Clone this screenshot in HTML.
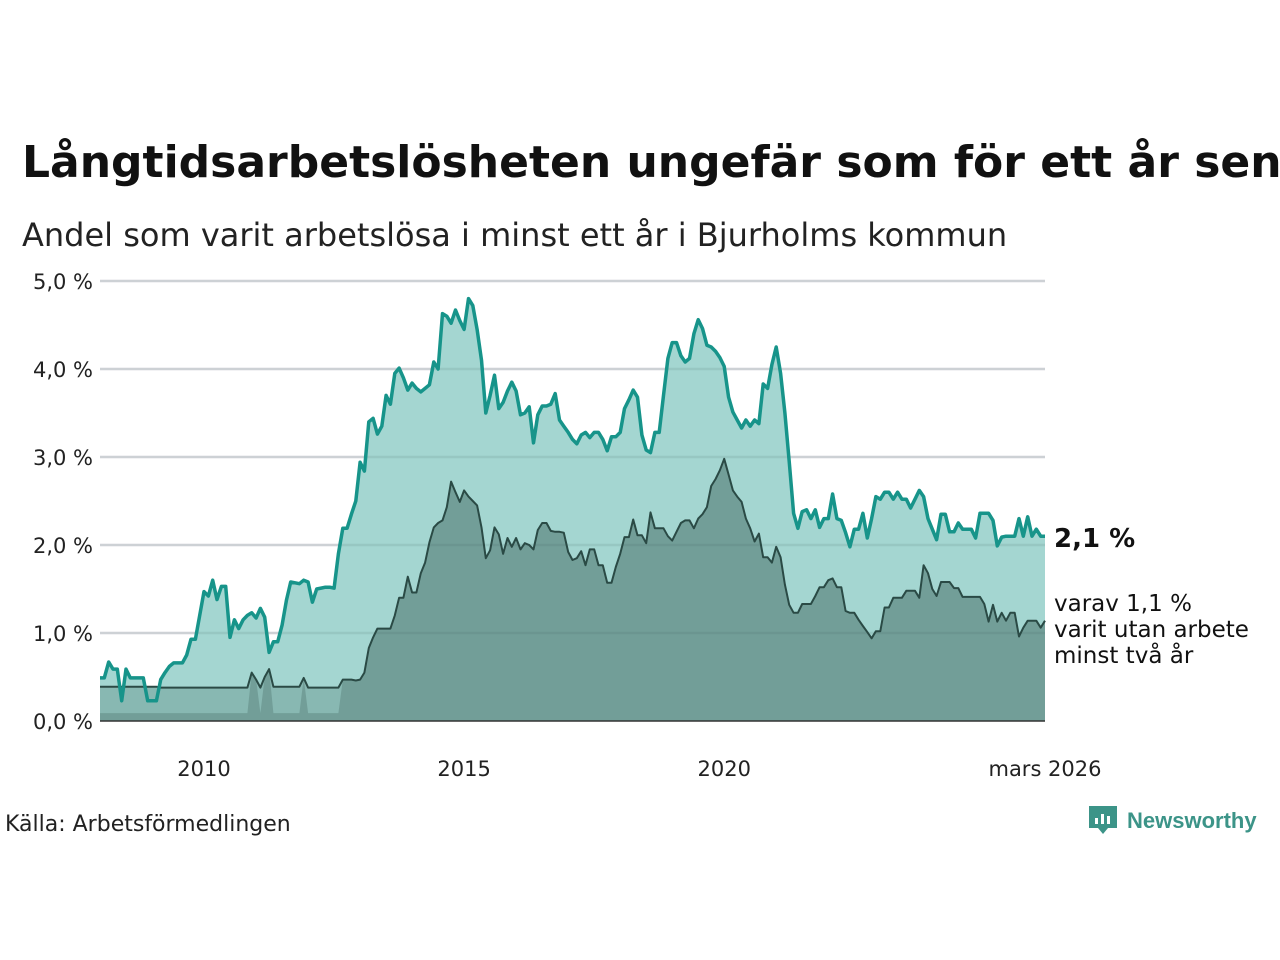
<!DOCTYPE html>
<html><head><meta charset="utf-8">
<style>
html,body{margin:0;padding:0;background:#fff;width:1280px;height:960px;overflow:hidden;font-family:"DejaVu Sans","Liberation Sans",sans-serif;}
svg{display:block}
</style></head>
<body>
<svg id="chart" width="1280" height="960">
<text x="22" y="177" font-size="44" font-weight="bold" fill="#111">Långtidsarbetslösheten ungefär som för ett år sen</text>
<text x="22" y="246" font-size="32" fill="#222">Andel som varit arbetslösa i minst ett år i Bjurholms kommun</text>
<g id="grid"></g>
<g id="plot"></g>
<g id="axes"></g>
<text x="1054" y="547" font-size="26" font-weight="bold" fill="#111">2,1 %</text>
<text font-size="23" fill="#111"><tspan x="1054" y="611">varav 1,1 %</tspan><tspan x="1054" y="637">varit utan arbete</tspan><tspan x="1054" y="663">minst två år</tspan></text>
<text x="5" y="831" font-size="22" fill="#222">Källa: Arbetsförmedlingen</text>
<g>
<path d="M1089 806 h28 v22 h-9 l-5 6 l-5 -6 h-9 z" fill="#3c9488"/>
<rect x="1095" y="818" width="3" height="6" fill="#fff"/><rect x="1101" y="814" width="3" height="10" fill="#fff"/><rect x="1107" y="816" width="3" height="8" fill="#fff"/>
<text x="1127" y="828" font-size="22" font-weight="bold" fill="#3c9488" font-family="Liberation Sans, sans-serif">Newsworthy</text>
</g>
</svg>
<script>
const years = ["2010","2015","2020","mars 2026"];
const yTicks = [0,1,2,3,4,5];
const yTickLabels = ["0,0 %","1,0 %","2,0 %","3,0 %","4,0 %","5,0 %"];
const total = [
0.49,0.49,0.67,0.59,0.59,0.23,0.59,0.49,0.49,0.49,0.49,0.23,
0.23,0.23,0.47,0.55,0.62,0.66,0.66,0.66,0.75,0.93,0.93,1.2,
1.47,1.42,1.6,1.38,1.53,1.53,0.95,1.15,1.05,1.15,1.2,1.23,
1.17,1.28,1.18,0.78,0.9,0.9,1.09,1.37,1.58,1.57,1.56,1.6,
1.58,1.35,1.5,1.51,1.52,1.52,1.51,1.9,2.19,2.19,2.35,2.5,
2.94,2.84,3.4,3.44,3.26,3.35,3.7,3.6,3.95,4.01,3.9,3.76,
3.84,3.78,3.74,3.78,3.82,4.08,4.0,4.63,4.6,4.52,4.67,4.55,
4.45,4.8,4.72,4.45,4.1,3.5,3.7,3.93,3.55,3.62,3.75,3.85,
3.75,3.48,3.5,3.57,3.16,3.48,3.58,3.58,3.6,3.72,3.42,3.35,
3.28,3.2,3.15,3.25,3.28,3.22,3.28,3.28,3.2,3.07,3.23,3.23,
3.28,3.55,3.65,3.76,3.68,3.25,3.08,3.05,3.28,3.28,3.7,4.12,
4.3,4.3,4.15,4.08,4.12,4.4,4.56,4.46,4.27,4.25,4.2,4.13,
4.03,3.68,3.51,3.42,3.33,3.42,3.35,3.42,3.38,3.83,3.78,4.05,
4.25,3.95,3.5,2.95,2.36,2.19,2.38,2.4,2.3,2.4,2.2,2.3,
2.3,2.58,2.3,2.28,2.14,1.98,2.18,2.18,2.36,2.08,2.3,2.55,
2.52,2.6,2.6,2.52,2.6,2.52,2.52,2.42,2.52,2.62,2.55,2.3,
2.18,2.06,2.35,2.35,2.15,2.15,2.25,2.18,2.18,2.18,2.08,2.36,
2.36,2.36,2.28,1.99,2.09,2.1,2.1,2.1,2.3,2.1,2.32,2.1,
2.18,2.1,2.1];
const longTerm = [
0.39,0.39,0.39,0.39,0.39,0.39,0.39,0.39,0.39,0.39,0.39,0.39,
0.39,0.39,0.38,0.38,0.38,0.38,0.38,0.38,0.38,0.38,0.38,0.38,
0.38,0.38,0.38,0.38,0.38,0.38,0.38,0.38,0.38,0.38,0.38,0.55,
0.47,0.38,0.5,0.59,0.39,0.39,0.39,0.39,0.39,0.39,0.39,0.49,
0.38,0.38,0.38,0.38,0.38,0.38,0.38,0.38,0.47,0.47,0.47,0.46,
0.47,0.55,0.83,0.95,1.05,1.05,1.05,1.05,1.2,1.4,1.4,1.64,
1.46,1.46,1.68,1.8,2.03,2.2,2.25,2.28,2.43,2.72,2.6,2.49,
2.62,2.55,2.5,2.45,2.2,1.85,1.94,2.2,2.12,1.9,2.08,1.98,
2.08,1.95,2.02,2.0,1.95,2.17,2.25,2.25,2.16,2.15,2.15,2.14,
1.92,1.83,1.85,1.93,1.77,1.95,1.95,1.77,1.77,1.57,1.57,1.75,
1.9,2.09,2.09,2.29,2.11,2.11,2.02,2.37,2.19,2.19,2.19,2.1,
2.05,2.15,2.25,2.28,2.28,2.19,2.3,2.35,2.43,2.67,2.75,2.85,
2.98,2.8,2.62,2.55,2.49,2.3,2.19,2.04,2.13,1.86,1.86,1.8,
1.98,1.86,1.55,1.32,1.23,1.23,1.33,1.33,1.33,1.42,1.52,1.52,
1.6,1.62,1.52,1.52,1.25,1.23,1.23,1.15,1.08,1.01,0.94,1.02,
1.02,1.29,1.29,1.4,1.4,1.4,1.48,1.48,1.48,1.4,1.77,1.68,
1.5,1.42,1.58,1.58,1.58,1.51,1.51,1.41,1.41,1.41,1.41,1.41,
1.33,1.13,1.32,1.13,1.23,1.14,1.23,1.23,0.96,1.06,1.14,1.14,
1.14,1.06,1.14];
const startYear = 2008;
const NS="http://www.w3.org/2000/svg";
const X0=100,X1=1045,Y0=721,Y1=281;
const n=total.length;
function xScale(i){return X0+(X1-X0)*i/(n-1);}
function xYear(y){return X0+(X1-X0)*((y-startYear)*12)/(n-1);}
function yScale(v){return Y0-(Y0-Y1)*v/5;}
function mk(tag,attrs,parent){const e=document.createElementNS(NS,tag);for(const k in attrs)e.setAttribute(k,attrs[k]);parent.appendChild(e);return e;}
const grid=document.getElementById('grid'),plot=document.getElementById('plot'),axes=document.getElementById('axes');
yTicks.forEach((t,i)=>{
  if(t>0){const l=mk('line',{x1:X0,x2:X1,y1:yScale(t),y2:yScale(t),stroke:'#e2e2e6','stroke-width':2.5},grid);
  
  }
  const tx=mk('text',{x:93,y:yScale(t)+8,'text-anchor':'end','font-size':21,fill:'#222'},axes);
  tx.textContent=yTickLabels[i];
  
  
});
function areaPath(arr){let d='M'+xScale(0)+','+Y0;arr.forEach((v,i)=>{d+=' L'+xScale(i).toFixed(1)+','+yScale(v).toFixed(1);});return d+' L'+xScale(n-1)+','+Y0+' Z';}
function linePath(arr){return arr.map((v,i)=>(i?'L':'M')+xScale(i).toFixed(1)+','+yScale(v).toFixed(1)).join(' ');}
const a1=mk('path',{d:areaPath(total),fill:'#a4d6d1'},plot);


const a2=mk('path',{d:areaPath(longTerm),fill:'#88b8b2'},plot);


const core=longTerm.map(v=>v>0.42?v:0.09);
const a3=mk('path',{d:areaPath(core),fill:'#729e98'},plot);


yTicks.forEach(t=>{if(t>0){const l=mk('line',{x1:X0,x2:X1,y1:yScale(t),y2:yScale(t),stroke:'rgba(60,90,90,0.12)','stroke-width':2.5},plot);

}});
const l2=mk('path',{d:linePath(longTerm),fill:'none',stroke:'#2a4a45','stroke-width':2,'stroke-linejoin':'round'},plot);


const l1=mk('path',{d:linePath(total),fill:'none',stroke:'#17948a','stroke-width':3.5,'stroke-linejoin':'round'},plot);


const base=mk('line',{x1:X0,x2:X1,y1:Y0,y2:Y0,stroke:'#333','stroke-width':1.5},axes);


const yearVals=[2010,2015,2020];
years.forEach((lab,i)=>{
  const x=i<3?xYear(yearVals[i]):X1;
  const t=mk('text',{x:x,y:776,'text-anchor':'middle','font-size':21,fill:'#222'},axes);
  t.textContent=lab;
  
  
});
</script>
</body></html>
